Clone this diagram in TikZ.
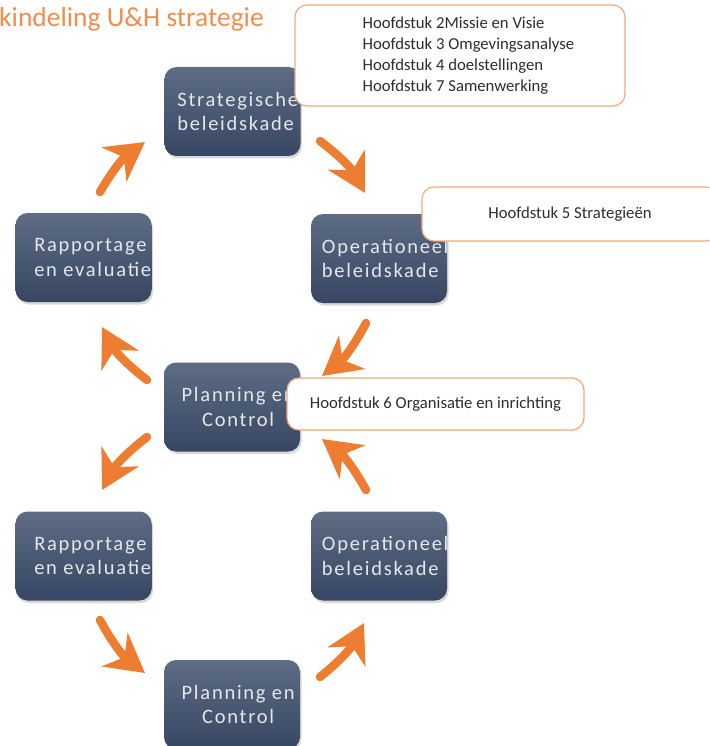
\documentclass[tikz,border=0pt]{standalone}
\usepackage{fontspec}
\setmainfont{Carlito}
\newfontfamily\cellfont[LetterSpace=8.5]{Carlito}
\usetikzlibrary{shadows,arrows.meta,calc}
\definecolor{celltop}{RGB}{94,108,132}
\definecolor{cellbot}{RGB}{55,70,98}
\definecolor{celltxt}{RGB}{228,231,236}
\definecolor{arroworange}{RGB}{237,125,49}
\definecolor{titleorange}{RGB}{241,141,77}
\definecolor{callborder}{RGB}{244,168,122}
\definecolor{calltxt}{RGB}{45,45,45}
\begin{document}
\begin{tikzpicture}[x=1pt,y=-1pt,
  cell/.style n args={3}{minimum width=136pt, minimum height=89pt, inner sep=0pt,
    rounded corners=12pt, top color=celltop, bottom color=cellbot, draw=none,
    drop shadow={opacity=0.3, shadow xshift=1.5pt, shadow yshift=-2.5pt},
    path picture={\node[celltext, align=#2, anchor=west] at ([xshift=#1]path picture bounding box.west) {#3};}},
  celltext/.style={text=celltxt, font=\cellfont\fontsize{20.5}{24.5}\selectfont, inner sep=0pt},
  callfont/.style={text=calltxt, font=\fontsize{16.7}{21}\selectfont},
  callout/.style={fill=white, draw=callborder, line width=1.2pt, rounded corners=12pt,
    inner sep=0pt, callfont},
  flow/.style={draw=arroworange, line width=8.5pt, line cap=round,
    -{Stealth[length=38pt, width=42pt, inset=12pt]}},
]
\useasboundingbox (0,0) rectangle (709,746);
\clip (0,0) rectangle (709,746);

\node[anchor=base west, inner sep=0pt, text=titleorange, font=\fontsize{27.5}{31}\selectfont] (title) at (-1,27) {kindeling U\&H strategie};

% cycle boxes
\node[cell={5pt}{left}{Strategische\\beleidskade}] (strat) at (232.5,111.5) {};
\node[cell={6pt}{left}{Operationeel\\beleidskade}] (op1) at (379,258.5) {};
\node[cell={9pt}{left}{Rapportage\\en evaluatie}] (rap1) at (83.5,257.5) {};
\node[cell={6pt}{center}{Planning en\\Control}] (plan1) at (232,407) {};
\node[cell={9pt}{left}{Rapportage\\en evaluatie}] (rap2) at (83.5,556) {};
\node[cell={6pt}{left}{Operationeel\\beleidskade}] (op2) at (379,556) {};
\node[cell={6pt}{center}{Planning en\\Control}] (plan2) at (232,704.5) {};

% callouts
\node[callout, minimum width=330pt, minimum height=101pt] (c1) at (460,55.5) {};
\node[anchor=west, align=left, inner sep=0pt, callfont] (c1t) at ([xshift=68pt]c1.west)
  {Hoofdstuk 2Missie en Visie\\Hoofdstuk 3 Omgevingsanalyse\\Hoofdstuk 4 doelstellingen\\Hoofdstuk 7 Samenwerking};
\node[callout, minimum width=296pt, minimum height=54pt] (c2) at (570,214) {Hoofdstuk 5 Strategieën};
\node[callout, minimum width=297pt, minimum height=52pt] (c3) at (435.5,404) {Hoofdstuk 6 Organisatie en inrichting};

% arrows
\coordinate (a1s) at (320,141); \coordinate (a1e) at (365,193);
\coordinate (a2s) at (366,323); \coordinate (a2e) at (322,376);
\coordinate (a3s) at (366,490); \coordinate (a3e) at (322,439);
\coordinate (a4s) at (147,380); \coordinate (a4e) at (102,327);
\coordinate (a5s) at (100,192); \coordinate (a5e) at (145,142);
\coordinate (a6s) at (147,437); \coordinate (a6e) at (102,490);
\coordinate (a7s) at (100,620); \coordinate (a7e) at (145,673);
\coordinate (a8s) at (320,677); \coordinate (a8e) at (364,623);
\draw[flow] (a1s) to[bend left=12] (a1e);
\draw[flow] (a2s) to[bend left=12] (a2e);
\draw[flow] (a3s) to[bend right=12] (a3e);
\draw[flow] (a4s) to[bend left=12] (a4e);
\draw[flow] (a5s) to[bend left=12] (a5e);
\draw[flow] (a6s) to[bend right=12] (a6e);
\draw[flow] (a7s) to[bend right=12] (a7e);
\draw[flow] (a8s) to[bend right=12] (a8e);
\end{tikzpicture}
\end{document}
